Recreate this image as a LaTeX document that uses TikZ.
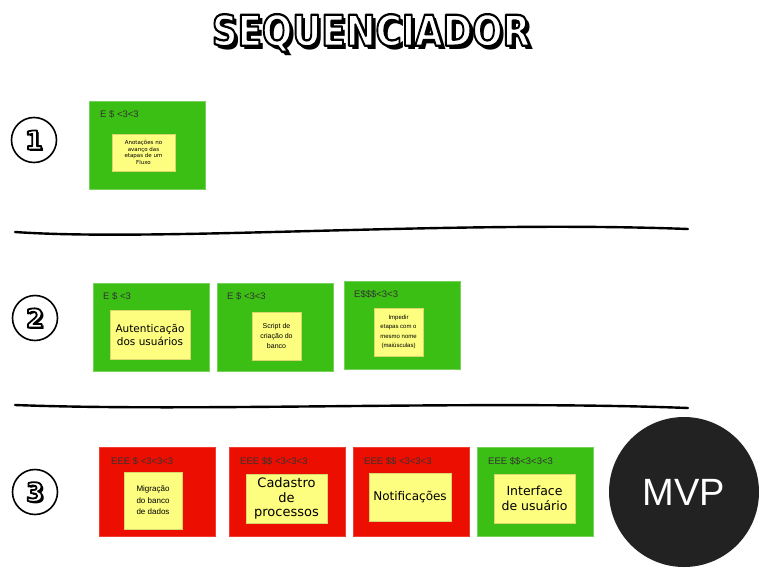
\documentclass[tikz,border=0pt]{standalone}
\usepackage{fontspec}
\setmainfont{Liberation Sans}
\newfontfamily\headfont{DejaVu Sans}
\newfontfamily\notefont{DejaVu Sans}
\newcommand\hollowtext[1]{\special{pdf:literal direct 2 Tr 1.8 w 1 j 0 G 1 g}#1\special{pdf:literal direct 0 Tr 0 g 0 G}}
\definecolor{cardgreen}{RGB}{59,191,20}
\definecolor{cardred}{RGB}{236,14,0}
\definecolor{noteyellow}{RGB}{253,253,128}
\definecolor{taggray}{RGB}{51,51,51}
\definecolor{mvpblack}{RGB}{34,34,34}
\begin{document}
\begin{tikzpicture}[x=1pt,y=-1pt,
    card/.style={anchor=north west, inner sep=0pt, minimum width=116pt, minimum height=88pt},
    green/.style={card, fill=cardgreen, draw=cardgreen!70!white, line width=0.6pt},
    red/.style={card, fill=cardred, draw=cardred!80!white, line width=0.6pt},
    tag/.style={anchor=west, inner sep=0pt, text=taggray, font=\fontsize{9.5}{10}\selectfont},
    note/.style={fill=noteyellow, draw=noteyellow!85!black, line width=0.4pt, inner sep=0pt, align=center, text=black},
    level/.style={circle, draw, line width=1.6pt, minimum size=45pt, inner sep=0pt},
    digit/.style={font=\headfont\bfseries\fontsize{26}{26}\selectfont},
    heading/.style={font=\headfont\bfseries\fontsize{34}{34}\selectfont},
    rule/.style={line width=2.4pt, line cap=round}]
\useasboundingbox (0,0) rectangle (759,567);
% title
\node[heading] (title-shadow) at (374.5,36.5) {\scalebox{1.05}[1.25]{SEQUENCIADOR}};
\node[heading] (title) at (371,33) {\scalebox{1.05}[1.25]{\hollowtext{SEQUENCIADOR}}};
% levels
\node[level] (one) at (34,140) {};
\node[level] (two) at (35,318) {};
\node[level] (three) at (35,492) {};
\foreach \n/\t in {one/1,two/2,three/3}{
  \node[digit] (\n-shadow) at ([shift={(1.8,1.8)}]\n.center) {\t};
  \node[digit] (\n-digit) at (\n.center) {\hollowtext{\t}};
}
\draw[rule] (15,232) .. controls (160,242) and (450,220) .. (688,229);
\draw[rule] (15,405) .. controls (200,412) and (480,400) .. (688,408);
% level 1
\node[green] (c11) at (89,101) {};
\node[tag] (t11) at (100,114) {E \$ <3<3};
\node[note, minimum width=63pt, minimum height=37pt, font=\notefont\fontsize{5.5}{6.5}\selectfont] (n11) at (143.5,152.5) {Anotações no\\avanço das\\etapas de um\\Fluxo};
% level 2
\node[green] (c21) at (93,283) {};
\node[tag] (t21) at (103,296) {E \$ <3};
\node[note, minimum width=80pt, minimum height=49pt, font=\notefont\fontsize{10.5}{13}\selectfont] (n21) at (150,334.5) {Autenticação\\dos usuários};
\node[green] (c22) at (217,283) {};
\node[tag] (t22) at (227,296) {E \$ <3<3};
\node[note, minimum width=49pt, minimum height=48pt, font=\fontsize{7}{10}\selectfont] (n22) at (276.5,336) {Script de\\criação do\\banco};
\node[green] (c23) at (344,281) {};
\node[tag] (t23) at (354,294) {E\$\$\$<3<3};
\node[note, minimum width=49pt, minimum height=48pt, font=\fontsize{6}{9.5}\selectfont] (n23) at (398.5,332) {Impedir\\etapas com o\\mesmo nome\\(maiúsculas)};
% level 3
\node[red, minimum height=89pt] (c31) at (99,447) {};
\node[tag] (t31) at (111,461) {EEE \$ <3<3<3};
\node[note, minimum width=58pt, minimum height=57pt, font=\fontsize{8}{11.5}\selectfont] (n31) at (153,500.5) {Migração\\do banco\\de dados};
\node[red, minimum height=89pt] (c32) at (229,447) {};
\node[tag] (t32) at (240,461) {EEE \$\$ <3<3<3};
\node[note, minimum width=81pt, minimum height=49pt, font=\notefont\fontsize{13}{14.5}\selectfont] (n32) at (286.5,498.5) {Cadastro\\de\\processos};
\node[red, minimum height=89pt] (c33) at (353,447) {};
\node[tag] (t33) at (364,461) {EEE \$\$ <3<3<3};
\node[note, minimum width=82pt, minimum height=48pt, font=\notefont\fontsize{12}{12}\selectfont] (n33) at (410,497) {Notificações};
\node[green, minimum height=89pt] (c34) at (477,447) {};
\node[tag] (t34) at (488,461) {EEE \$\$<3<3<3};
\node[note, minimum width=81pt, minimum height=49pt, font=\notefont\fontsize{12.5}{15.5}\selectfont] (n34) at (534.5,498.5) {Interface\\de usuário};
% goal
\node[circle, fill=mvpblack, minimum size=150pt, inner sep=0pt, text=white, font=\fontsize{38}{38}\selectfont] (mvp) at (684,492) {MVP};
\end{tikzpicture}
\end{document}
